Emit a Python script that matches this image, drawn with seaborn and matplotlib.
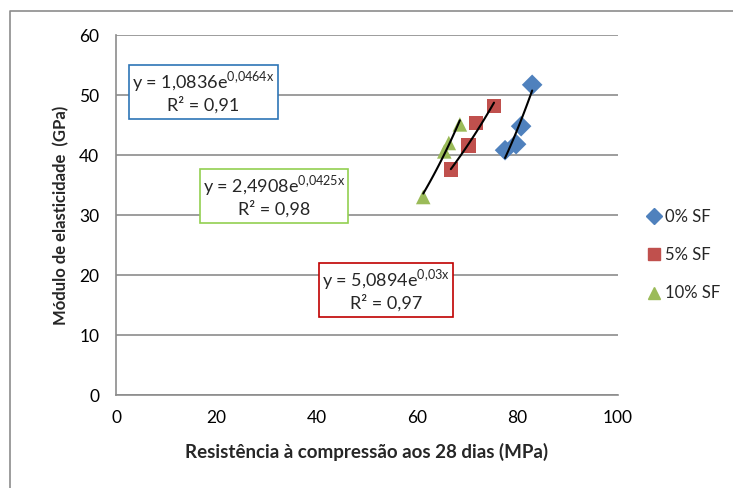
import numpy as np
import pandas as pd
import seaborn as sns
import matplotlib.pyplot as plt
from matplotlib.patches import Rectangle
from matplotlib.lines import Line2D

# values
sf0_x = [77.5, 79.7, 80.7, 82.9]
sf0_y = [40.8, 41.8, 44.8, 51.7]
sf5_x = [66.7, 70.2, 71.7, 75.3]
sf5_y = [37.6, 41.6, 45.3, 48.2]
sf10_x = [61.2, 65.4, 66.3, 68.5]
sf10_y = [33.0, 40.6, 42.0, 45.1]

series = ["0% SF", "5% SF", "10% SF"]
# exponential trendlines y = a*e^(b*x)
fit_a = [1.0836, 5.0894, 2.4908]
fit_b = [0.0464, 0.03, 0.0425]
fit_text = [("1,0836", "0{,}0464x", "0,91"), ("5,0894", "0{,}03x", "0,97"), ("2,4908", "0{,}0425x", "0,98")]

colors = ["#4F81BD", "#C0504D", "#9BBB59"]
markers = ["D", "s", "^"]
box_colors = ["#2E75B6", "#C00000", "#92D050"]

df = pd.DataFrame({
    "x": sf0_x + sf5_x + sf10_x,
    "y": sf0_y + sf5_y + sf10_y,
    "serie": [series[0]] * 4 + [series[1]] * 4 + [series[2]] * 4,
})

sns.set_style("white")
plt.rcParams["font.family"] = ["Lato", "DejaVu Sans"]

fig = plt.figure(figsize=(7.33, 4.88), dpi=100)
ax = fig.add_axes([116 / 733, 1 - 395 / 488, 502 / 733, 360 / 488])

# trendlines
for i, s in enumerate(series):
    xs = df.loc[df.serie == s, "x"]
    xx = np.linspace(xs.min(), xs.max(), 50)
    ax.plot(xx, fit_a[i] * np.exp(fit_b[i] * xx), color="black", lw=1.5, zorder=3)

sns.scatterplot(data=df, x="x", y="y", hue="serie", style="serie",
                palette=dict(zip(series, colors)), markers=dict(zip(series, markers)),
                s=[110], edgecolor="none", ax=ax, legend=False, zorder=2)

ax.set_xlim(0, 100)
ax.set_ylim(0, 60)
ax.set_xticks(range(0, 101, 20))
ax.set_yticks(range(0, 61, 10))
ax.yaxis.grid(True, color="#8C8C8C", lw=1.2)
ax.set_axisbelow(True)
for sp in ["top", "right"]:
    ax.spines[sp].set_visible(False)
for sp in ["left", "bottom"]:
    ax.spines[sp].set_color("#8C8C8C")
    ax.spines[sp].set_linewidth(1.2)
ax.tick_params(axis="both", direction="out", length=6, width=1.2, color="#8C8C8C",
               labelsize=12.5, labelcolor="black", pad=6)
ax.tick_params(axis="x", pad=5)
ax.set_xlabel("Resistência à compressão aos 28 dias (MPa)", fontsize=13.5, fontweight="bold", labelpad=12)
ax.set_ylabel("Módulo de elasticidade  (GPa)", fontsize=12, fontweight="bold", labelpad=7)

# equation boxes (figure pixel positions)
boxes = [(129, 65, 278, 119), (319, 263, 453, 317), (200, 169, 348, 223)]
for i, (x0, y0, x1, y1) in enumerate(boxes):
    fig.patches.append(Rectangle((x0 / 733, 1 - y1 / 488), (x1 - x0) / 733, (y1 - y0) / 488,
                                 transform=fig.transFigure, fill=True, facecolor="white",
                                 edgecolor=box_colors[i], lw=1.2, zorder=5))
    a, b, r2 = fit_text[i]
    cx = (x0 + x1) / 2 / 733
    fig.text(cx, 1 - (y0 + 17) / 488, "y = " + a + "e$^{\\mathregular{" + b + "}}$",
             ha="center", va="center", fontsize=13, zorder=6)
    fig.text(cx, 1 - (y0 + 40) / 488, "R² = " + r2, ha="center", va="center", fontsize=13, zorder=6)

# legend
handles = [Line2D([], [], ls="none", marker=markers[i], color=colors[i], markersize=9 if i else 8)
           for i in range(3)]
fig.legend(handles, series, loc="center left", bbox_to_anchor=(637 / 733, 1 - 255 / 488),
           frameon=False, fontsize=12, handletextpad=0.1, labelspacing=1.35, handlelength=1.2,
           borderaxespad=0)

# outer chart border (top and left edges visible)
fig.add_artist(Line2D([10 / 733, 10 / 733, 1], [0, 1 - 11 / 488, 1 - 11 / 488],
                      transform=fig.transFigure, color="#8C8C8C", lw=1.2))

fig.savefig("out.png", dpi=100)
